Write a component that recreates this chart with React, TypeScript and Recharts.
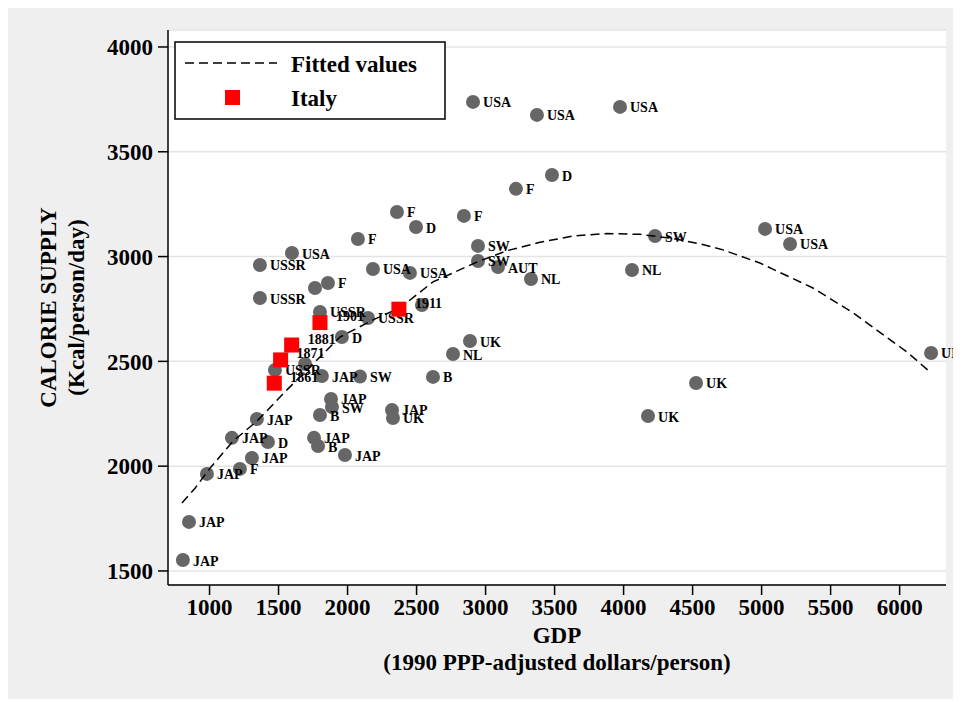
import React from "react";
import {
  ScatterChart,
  Scatter,
  XAxis,
  YAxis,
  CartesianGrid,
  Legend,
  Label,
} from "recharts";

const FONT = "'Liberation Serif', 'Times New Roman', serif";

// tick values
const xTicks = [1000, 1500, 2000, 2500, 3000, 3500, 4000, 4500, 5000, 5500, 6000];
const yTicks = [1500, 2000, 2500, 3000, 3500, 4000];

// other countries (gray markers)
const countryLabels = [
  "USA", "USA", "USA", "D", "F", "F", "F", "D", "F", "USA",
  "USSR", "SW", "SW", "AUT", "NL", "NL", "SW", "USA", "USA", "UK",
  "UK", "UK", "UK", "NL", "B", "", "USSR", "USSR", "D", "USSR",
  "", "F", "USA", "USA", "USSR", "", "JAP", "SW", "JAP", "SW",
  "B", "JAP", "UK", "JAP", "B", "JAP", "JAP", "JAP", "D", "JAP",
  "F", "JAP", "JAP", "JAP",
];
const countryGdp = [
  2909, 3372, 3974, 3481, 3220, 2843, 2358, 2496, 2075, 1597,
  1365, 2945, 2945, 3090, 3329, 4061, 4228, 5025, 5206, 6228,
  4525, 4177, 2887, 2764, 2619, 2539, 2148, 1800, 1959, 1365,
  1764, 1858, 2184, 2452, 1474, 1692, 1814, 2090, 1880, 1887,
  1800, 2322, 2329, 1757, 1786, 1981, 1343, 1162, 1423, 1307,
  1220, 981, 851, 807,
];
const countryKcal = [
  3738, 3676, 3714, 3389, 3323, 3194, 3213, 3141, 3084, 3017,
  2960, 3051, 2979, 2950, 2893, 2936, 3098, 3132, 3060, 2540,
  2397, 2239, 2597, 2535, 2426, 2769, 2707, 2736, 2616, 2802,
  2850, 2874, 2941, 2922, 2459, 2488, 2430, 2428, 2321, 2282,
  2244, 2268, 2230, 2135, 2096, 2053, 2225, 2135, 2115, 2039,
  1987, 1963, 1734, 1552,
];

// Italy (red squares)
const italyYears = ["1861", "1871", "1881", "1901", "1911"];
const italyGdp = [1469, 1515, 1595, 1800, 2372];
const italyKcal = [2396, 2507, 2578, 2685, 2749];

// fitted values
const fitGdp = [800, 895, 1003, 1171, 1344, 1561, 1677, 1945, 2184, 2380, 2619, 2938, 3155, 3394, 3634, 3880, 4119, 4358, 4554, 4720, 4988, 5372, 5662, 6053, 6228];
const fitKcal = [1824, 1895, 1990, 2120, 2215, 2364, 2440, 2616, 2698, 2755, 2879, 2974, 3028, 3068, 3098, 3110, 3106, 3086, 3061, 3032, 2969, 2850, 2732, 2545, 2445];

const countries = countryGdp.map((g, i) => ({ gdp: g, kcal: countryKcal[i], label: countryLabels[i] }));
const italy = italyGdp.map((g, i) => ({ gdp: g, kcal: italyKcal[i], label: italyYears[i] }));
const fitted = fitGdp.map((g, i) => ({ gdp: g, kcal: fitKcal[i] }));

const GrayDot = (props: any) => (
  <circle cx={props.cx} cy={props.cy} r={7} fill="#666666" />
);

const GrayText = (props: any) =>
  props.payload.label ? (
    <text
      x={props.cx + 10}
      y={props.cy + 1}
      dominantBaseline="central"
      fontFamily={FONT}
      fontWeight="bold"
      fontSize={14}
      fill="#000"
    >
      {props.payload.label}
    </text>
  ) : (
    <g />
  );

const RedSquare = (props: any) => (
  <rect x={props.cx - 7.5} y={props.cy - 7.5} width={15} height={15} fill="#ff0000" />
);

const RedText = (props: any) => (
  <text
    x={props.cx + 16}
    y={props.cy - 6}
    dominantBaseline="central"
    fontFamily={FONT}
    fontWeight="bold"
    fontSize={14}
    fill="#000"
  >
    {props.payload.label}
  </text>
);

const NoDot = () => <g />;

const LegendBox = () => (
  <svg width={272} height={79} style={{ display: "block" }}>
    <rect x={1} y={1} width={270} height={77} fill="#fff" stroke="#000" strokeWidth={1.5} />
    <line x1={11} y1={22} x2={103} y2={22} stroke="#000" strokeWidth={1.5} strokeDasharray="9 5" />
    <text x={117} y={23} dominantBaseline="central" fontFamily={FONT} fontWeight="bold" fontSize={23}>
      Fitted values
    </text>
    <rect x={51} y={49} width={15} height={15} fill="#ff0000" />
    <text x={117} y={57} dominantBaseline="central" fontFamily={FONT} fontWeight="bold" fontSize={23}>
      Italy
    </text>
  </svg>
);

const tickStyle = { fill: "#000", fontFamily: FONT, fontWeight: "bold", fontSize: 23 } as any;

export default function App() {
  return (
    <div style={{ width: 945, height: 691, background: "#efefef" }}>
      <ScatterChart width={945} height={691} margin={{ top: 22, right: 7, bottom: 0, left: 0 }}>
        <CartesianGrid
          vertical={false}
          stroke="#e4e4e4"
          strokeWidth={1.5}
          fill="#ffffff"
          fillOpacity={1}
        />
        <XAxis
          type="number"
          dataKey="gdp"
          domain={[699, 6336]}
          ticks={xTicks}
          height={114}
          tickSize={10}
          tickMargin={4}
          tick={tickStyle}
          axisLine={{ stroke: "#000", strokeWidth: 1.5 }}
          tickLine={{ stroke: "#000", strokeWidth: 1.5 }}
        >
          <Label
            content={(p: any) => {
              const vb = p.viewBox;
              const cx = vb.x + vb.width / 2;
              return (
                <g fontFamily={FONT} fontWeight="bold" fontSize={23} fill="#000">
                  <text x={cx} y={vb.y + 50} textAnchor="middle" dominantBaseline="central">
                    GDP
                  </text>
                  <text x={cx} y={vb.y + 77} textAnchor="middle" dominantBaseline="central">
                    (1990 PPP-adjusted dollars/person)
                  </text>
                </g>
              );
            }}
          />
        </XAxis>
        <YAxis
          type="number"
          dataKey="kcal"
          domain={[1433, 4081]}
          ticks={yTicks}
          width={160}
          tickSize={10}
          tickMargin={5}
          tick={tickStyle}
          axisLine={{ stroke: "#000", strokeWidth: 1.5 }}
          tickLine={{ stroke: "#000", strokeWidth: 1.5 }}
        >
          <Label
            content={(p: any) => {
              const vb = p.viewBox;
              const cy = vb.y + vb.height / 2;
              return (
                <g fontFamily={FONT} fontWeight="bold" fontSize={23} fill="#000">
                  <text x={40} y={cy} textAnchor="middle" dominantBaseline="central" transform={`rotate(-90 40 ${cy})`}>
                    CALORIE SUPPLY
                  </text>
                  <text x={68} y={cy} textAnchor="middle" dominantBaseline="central" transform={`rotate(-90 68 ${cy})`}>
                    (Kcal/person/day)
                  </text>
                </g>
              );
            }}
          />
        </YAxis>
        <Legend
          content={() => <LegendBox />}
          wrapperStyle={{ position: "absolute", left: 166, top: 33, width: 272, height: 0, overflow: "visible" }}
        />
        <Scatter data={countries} shape={GrayDot} isAnimationActive={false} legendType="none" />
        <Scatter data={countries} shape={GrayText} isAnimationActive={false} legendType="none" />
        <Scatter
          data={fitted}
          shape={NoDot}
          line={{ stroke: "#000", strokeWidth: 1.5, strokeDasharray: "9 5" }}
          lineType="joint"
          isAnimationActive={false}
          legendType="none"
        />
        <Scatter data={italy} shape={RedSquare} isAnimationActive={false} legendType="none" />
        <Scatter data={italy} shape={RedText} isAnimationActive={false} legendType="none" />
      </ScatterChart>
    </div>
  );
}
